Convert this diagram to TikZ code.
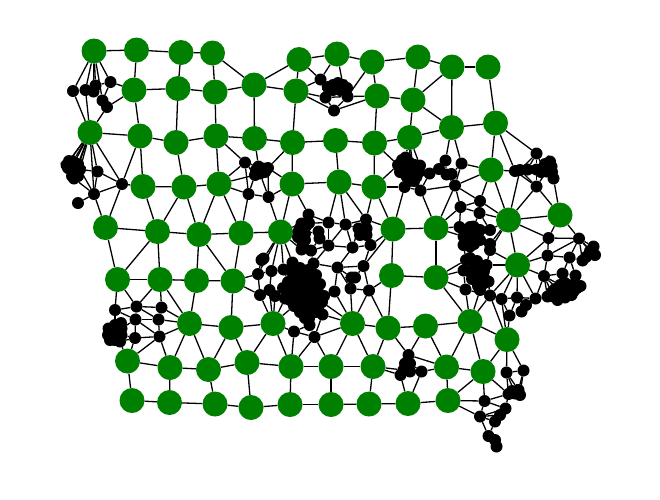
\documentclass[tikz,border=0pt]{standalone}
\definecolor{hubgreen}{RGB}{0, 128, 0}
\tikzset{
  hub/.style={circle, fill=hubgreen, draw=none, minimum size=25pt, inner sep=0pt},
  tap/.style={circle, fill=black, draw=none, minimum size=12pt, inner sep=0pt},
  wire/.style={line width=1.3pt, black}
}
\begin{document}
\begin{tikzpicture}[x=1pt, y=-1pt]
  \useasboundingbox (0,0) rectangle (660,499);

  % Green hubs, row by row
  \foreach \n/\x/\y in {
    g1/94/51, g2/136.5/50, g3/181/52.5, g4/212.5/53, g5/299/59.5, g6/337/54, g7/372/62, g8/418/57, g9/452/67, g10/488/67,
    g11/134/90, g12/178/88.5, g13/215/92, g14/254/85, g15/296/91, g16/377/96, g17/413/100,
    g18/90/132.5, g19/140/136, g20/176/142.5, g21/216/136, g22/254.5/138.5, g23/292.5/142.5, g24/335.5/140.5, g25/374.5/143, g26/409.5/137.5, g27/451.5/127.5, g28/495.5/123,
    g29/143/186.5, g30/184/187, g31/219/184, g32/292/184, g33/339/182, g34/374/187, g35/491/170,
    g36/105.5/227.5, g37/157.5/231.5, g38/199/234.5, g39/241/233, g40/280.5/232, g41/393/229, g42/436/228, g43/508.5/220, g44/560/215,
    g45/117.5/279.5, g46/160/279.5, g47/196.5/280.5, g48/233/281, g49/391.5/275.5, g50/436/277.5, g51/517.5/265,
    g52/189.5/323.5, g53/231/327.5, g54/273/323.5, g55/352.5/323.5, g56/388/328, g57/425.5/326, g58/470/321.5, g59/507/339.5,
    g60/127.5/361, g61/170/367.5, g62/208.5/369.5, g63/247/362.5, g64/291/366.5, g65/331/366.5, g66/373/366.5, g67/446.5/367, g68/483/371.5,
    g69/132/400.5, g70/169.5/402.5, g71/215/404, g72/251/407.5, g73/290/404.5, g74/331/404.5, g75/369/404, g76/408/403.5, g77/448/400.5}
    \node[hub] (\n) at (\x,\y) {};

  % Black taps, north west
  \foreach \n/\x/\y in {
    a1/73/91, a2/85.5/90, a3/93.5/91.5, a4/95.5/85.5, a5/110.5/82, a6/102.5/100.5, a7/107/107,
    b1/66.5/165, b2/73/161.5, b3/72/167, b4/80/169.5, b5/74/178.5, b6/76.5/171, b7/97.5/171.5, b8/122/184, b9/94/194, b10/78/203,
    b11/69/161, b12/78/164, b13/68/168, b14/74/172, b15/78/176, b16/72/176,
    c1/245/162.5, c2/248.5/194, c3/268.5/197, c4/258.5/166.5, c5/255/175, c6/263.5/168.5, c7/260/173.5, c8/268/168, c9/265/172, c10/256/170,
    d1/320.5/79.5, d2/328/87, d3/333/85, d4/338/83, d5/343/85, d6/347/88, d7/333/90, d8/340/90, d9/325.5/97.5, d10/347.5/96.5, d11/334/110.5, d12/336/88}
    \node[tap] (\n) at (\x,\y) {};

  % Black taps, north east
  \foreach \n/\x/\y in {
    e1/405.5/157.5, e2/398/165, e3/420/165.5, e4/403.5/170, e5/410/170, e6/416.5/176.5, e7/406.5/176.5, e8/400/167, e9/413.5/173.5, e10/410/163, e11/404.5/187, e12/420.5/190.5,
    e13/429.5/173.5, e14/439/169, e15/445.5/160.5, e16/461.5/163.5, e17/446.5/174.5, e18/451.5/174, e19/455/185.5,
    e20/402/160, e21/415/165, e22/409/181, e23/414/181, e24/400/172, e25/419/172,
    f1/536.5/153.5, f2/515/171, f3/520/170, f4/527.5/169.5, f5/536.5/169.5, f6/543.5/168.5, f7/550/161.5, f8/551.5/166.5, f9/546.5/171.5, f10/553.5/178.5, f11/536.5/186.5,
    f12/545/164, f13/552/172, f14/541/172}
    \node[tap] (\n) at (\x,\y) {};

  % Black taps, middle
  \foreach \n/\x/\y in {
    m1/308.5/214.5, m2/328.5/222.5, m3/345.5/224.5, m4/366/219.5, m5/301.5/223.5, m6/298.5/231.5, m7/305/233.5, m8/301.5/240, m9/318.5/231.5, m10/319.5/238.5, m11/311/250.5, m12/301.5/249.5,
    m13/328.5/245.5, m14/352.5/247.5, m15/370.5/245, m16/358.5/228.5, m17/366.5/228.5, m18/360/235, m19/366.5/235,
    m20/263.5/258.5, m21/261.5/260, m22/258/274, m23/271.5/271, m24/283.5/269.5, m25/292.5/262.5, m26/313.5/263.5, m27/337.5/267.5, m28/363.5/266, m29/351.5/277.5, m30/355/277.5, m31/350.5/288.5, m32/369/290.5, m33/334.5/291.5,
    m34/260/295, m35/269.5/290, m36/275/296, m37/285/298.5, m38/322.5/314.5, m39/309/318.5, m40/309.5/325, m41/294/331.5, m42/314.5/337,
    m43/300/228, m44/306/226, m45/305/240, m46/303/245, m47/298/237, m48/309/223}
    \node[tap] (\n) at (\x,\y) {};

  % Black taps, the dense heap
  \foreach \n/\x/\y in {
    k1/292/272, k2/300/268, k3/308/270, k4/316/275, k5/288/282, k6/296/280, k7/304/278, k8/312/282, k9/320/284, k10/287/292, k11/294/290, k12/302/288, k13/310/290, k14/318/292, k15/324/296,
    k16/290/300, k17/298/298, k18/306/298, k19/314/300, k20/322/302, k21/294/306, k22/302/306, k23/310/306, k24/318/308, k25/300/312, k26/308/313, k27/316/312,
    k28/294/276, k29/302/274, k30/310/276, k31/290/286, k32/298/285, k33/306/284, k34/314/286, k35/291/295, k36/299/293, k37/307/294, k38/315/296, k39/296/302, k40/304/302, k41/312/303, k42/320/298, k43/304/310, k44/312/310, k45/283/288, k46/305/318}
    \node[tap] (\n) at (\x,\y) {};

  % Black taps, east side
  \foreach \n/\x/\y in {
    p1/480/201, p2/460.5/207, p3/479.5/213, p4/490/230, p5/490/244, p6/490/250, p7/486.5/265,
    q1/459.5/227, q2/466.5/230, q3/473.5/226.5, q4/480/230, q5/463.5/236.5, q6/470/236.5, q7/476.5/236.5, q8/463.5/245, q9/470/246.5, q10/480/240, q11/474/244, q12/470/227,
    r1/466/260, r2/463.5/270.5, r3/473.5/265, r4/475/273.5, r5/483.5/276.5, r6/476.5/281.5, r7/483.5/283.5, r8/488.5/281.5, r9/480/290, r10/465.5/289.5,
    r11/470/258, r12/479/268, r13/470/272, r14/477/261, r15/472/279, r16/484/271, r17/478/286,
    s1/548.5/238, s2/579/238.5, s3/547.5/255.5, s4/569.5/257.5, s5/582.5/260.5, s6/593.5/246.5, s7/595/255, s8/544/276, s9/562.5/273.5, s10/575.5/275.5, s11/580.5/286,
    s12/573.5/291.5, s13/566.5/290, s14/560/291.5, s15/553.5/296.5, s16/547.5/296.5, s17/557.5/300, s18/565/297.5, s19/571.5/295, s20/560/285,
    s21/555/289, s22/565/283, s23/572/285, s24/577/288, s25/568/293, s26/552/292, s27/562/296, s28/590/251, s29/586/257,
    t1/535.5/298.5, t2/517/297.5, t3/501.5/299, t4/490/295.5, t5/526/305, t6/521.5/311.5, t7/509.5/315.5}
    \node[tap] (\n) at (\x,\y) {};

  % Black taps, south
  \foreach \n/\x/\y in {
    u1/115/310, u2/136.5/306.5, u3/161.5/307.5, u4/135.5/319.5, u5/158.5/319.5, u6/135/338, u7/159.5/336.5,
    u8/108.5/328.5, u9/115/325, u10/121.5/328.5, u11/110/340, u12/120/341.5, u13/115/333.5, u14/121.5/335, u15/108/335, u16/115/340, u17/121/323,
    v1/408.5/355, v2/405/363.5, v3/410/363.5, v4/403.5/370, v5/410/371.5, v6/400.5/375, v7/421.5/371.5, v8/407/367,
    w1/506.5/372.5, w2/523.5/370.5, w3/508.5/394, w4/518.5/390, w5/520/395, w6/515/393.5, w7/484.5/401, w8/505.5/408.5, w9/500/415, w10/495/421.5, w11/480/416.5, w12/488.5/436, w13/495/440, w14/496.5/446.5, w15/512/391}
    \node[tap] (\n) at (\x,\y) {};

  % Hub to hub
  \foreach \a/\b in {
    g1/g2, g2/g3, g3/g4, g2/g11, g3/g12, g4/g13, g4/g14, g11/g12, g12/g13, g13/g14, g11/g19, g12/g20, g13/g21, g14/g22, g14/g15, g14/g5,
    g5/g6, g5/g15, g6/g7, g7/g8, g8/g9, g9/g10, g7/g16, g8/g17, g16/g17, g9/g17, g17/g27, g9/g27, g10/g28, g27/g28, g27/g26, g17/g26, g16/g25, g15/g23,
    g18/g19, g19/g20, g20/g21, g21/g22, g22/g23, g23/g24, g24/g25, g25/g26, g20/g30, g19/g29, g21/g31, g23/g32, g24/g33, g25/g34, g29/g30, g30/g31, g32/g33, g33/g34,
    g35/g28, g35/g43, g43/g44, g43/g51, g37/g29, g37/g30, g38/g30, g38/g31, g39/g31, g40/g32, g34/g41,
    g36/g37, g37/g38, g38/g39, g39/g40, g36/g45, g37/g45, g37/g46, g38/g47, g38/g48, g39/g48, g45/g46, g46/g47, g47/g48, g47/g52, g46/g52, g48/g53, g52/g53, g53/g54,
    g41/g42, g41/g49, g49/g50, g42/g50, g50/g58, g49/g56, g55/g56, g56/g57, g57/g58, g58/g59, g57/g67, g58/g67, g58/g68, g59/g68, g67/g68, g67/g77, g77/g68,
    g60/g61, g61/g62, g62/g63, g63/g64, g64/g65, g65/g66, g60/g69, g61/g70, g62/g71, g63/g72, g64/g73, g65/g74, g66/g75,
    g69/g70, g70/g71, g71/g72, g72/g73, g73/g74, g74/g75, g75/g76, g76/g77, g63/g54, g54/g64, g52/g62, g52/g61, g53/g62, g53/g63, g65/g55, g66/g55, g66/g56}
    \draw[wire] (\a) -- (\b);

  % Taps around the north
  \foreach \a/\b in {
    g1/a1, g1/a2, g1/a3, g1/a4, g1/a5, g1/a6, a1/g18, a2/g18, a7/g18, a5/g11, a7/g11, a4/a5, a6/a7, a3/a6, a1/a2, a2/a3, a3/a4, a5/a6,
    g18/b1, g18/b2, g18/b3, g18/b4, g18/b6, g18/b7, g18/b8, g18/b9, g18/b11, g18/b12, b8/b7, b8/b9, b8/g29, b9/b7, b9/b5, b9/b4, b7/b4, b10/b9, g19/b8, g36/b8, g36/b9, b1/b2, b2/b3, b3/b4, b4/b6, b5/b6, b1/b3,
    g21/c1, g31/c1, g31/c2, g31/c5, g23/c8, g32/c8, g32/c3, g22/c4, c1/c4, c1/c2, c1/c5, c2/c5, c2/c3, c3/c8, c3/c7, c4/c6, c5/c7, c6/c8, c2/g39, c3/g40, c4/c5, c6/c7,
    g15/d1, g5/d1, g6/d1, g6/d5, g7/d10, g15/d9, g15/d11, g16/d10, g16/d11, d9/d10, d1/d2, d1/d9, d2/d3, d3/d4, d4/d5, d5/d6, d7/d8, d2/d7, d6/d8, d7/d9, d8/d10, d9/d11, d10/d11, d3/d7, d5/d8}
    \draw[wire] (\a) -- (\b);

  % Taps around the north east
  \foreach \a/\b in {
    g26/e1, g26/e10, g26/e5, g26/e3, g26/e9, g25/e2, g34/e2, g34/e11, g41/e11, g42/e12, g27/e15, g27/e16, g35/e16, g35/e19, g35/p1,
    e11/e12, e11/e7, e12/e6, e12/e13, e13/e14, e14/e15, e15/e17, e16/e18, e19/e18, e19/e17, e19/e16, e19/p1, e13/e6, e12/e19, e14/e17, e3/e9, e1/e10, e2/e8, e4/e8, e4/e5, e5/e9, e6/e7, e6/e9, e3/e13,
    g28/f1, g28/f2, g43/f3, g43/f11, f2/f3, f3/f4, f4/f5, f5/f6, f6/f7, f7/f8, f8/f9, f9/f10, f1/f4, f1/f5, f1/f3, f1/f6, f2/f11, f5/f11, g44/f11, g44/f10, f11/f3, f11/f9, g35/f2,
    e19/p2, e19/g42, p1/p2, p1/p3, p2/p3, p1/g43, p3/g43, p2/q1, p2/g42, p3/p4, g43/p4, g43/p6, g43/p5, p4/q4, p5/p6, p6/p7, p5/q10, g42/q1, g42/q5, q1/q2, q2/q3, q3/q4, q1/q5, q5/q6, q6/q7, q7/q4, q5/q8, q8/q9, q6/q9, q9/q10, q7/q10, p3/q3}
    \draw[wire] (\a) -- (\b);

  % Taps around the middle
  \foreach \a/\b in {
    g32/m1, g33/m2, g33/m3, g33/m4, g34/m4, g40/m5, g40/m12, g40/m20, g40/m23, g40/m24, g40/m25, g40/m22, m1/m2, m2/m3, m3/m4, m2/m5, m3/m13, m2/m13, m13/m11, m13/m14, m14/m15, m14/m3, m14/m16,
    m15/m17, m14/m27, m27/m26, m27/m28, m28/m15, m28/m30, m27/m33, m27/m31, m11/m26, m13/m26, m26/k4, m33/k15, m31/m32, m28/m32, m29/m27, m4/m17, m3/m16, m4/m15, g41/m4, g41/m15, g41/m28, g49/m32,
    m5/m6, m6/m7, m7/m9, m9/m10, m8/m12, m7/m8, m10/m11, m1/m5, m12/m11, m16/m18, m17/m19, m18/m19, m16/m17, m29/m30, m30/m31,
    g48/m22, g48/m34, m20/m21, m21/m22, m22/m23, m23/m24, m22/m34, m23/m35, m34/m35, m35/m36, m36/m37, m25/k1, m24/k1, m25/k2, m37/k16, m37/k10, m24/k5,
    g54/m35, g54/m34, g54/m36, g54/m37, g54/k21, g54/m41, m41/m40, m41/m42, m42/m40, m42/m38, m42/g55, g55/m38, g55/m33, g55/m31, g55/m32, g55/k20, g56/m32, g64/m41, g64/m42, g65/m42,
    k25/m39, k26/m39, k27/m38, m39/m40}
    \draw[wire] (\a) -- (\b);

  % Taps around the east
  \foreach \a/\b in {
    g43/s1, g44/s1, g44/s2, s1/s2, s1/s3, s2/s3, s2/s4, s2/s5, s2/s6, s2/s7, s2/s28, s3/s4, s4/s5, s4/s9, s4/s10, s3/s8, s3/g51, s1/g51, s8/g51, s8/t1, s8/s9, s8/s20, s8/s14, s8/s15, s8/s16, s9/s10, s10/s12, s10/s11, s9/s20,
    g51/t1, g51/t2, g51/t3, g51/t4, g51/p7, g51/p6, g59/t3, g59/t4, g59/t7, t2/t7, t2/t5, t3/t7, t4/t3, t3/t2, t2/t1, t1/s16, t5/t6,
    g58/t4, g58/r10, g58/r9, r2/r10, r10/t4, p7/t4, p7/r3, r1/r2, r1/r3, g50/r1, g50/r2, g50/r10, q8/r1, q9/r3, p6/q10, r5/p7, r9/t4, r8/t4}
    \draw[wire] (\a) -- (\b);

  % Taps around the south
  \foreach \a/\b in {
    g45/u1, g45/u2, g46/u2, g46/u3, g52/u3, g52/u5, g52/u7, g61/u7, g60/u7, g60/u6, g60/u12, u1/u2, u2/u3, u2/u4, u3/u5, u4/u5, u4/u7, u5/u7, u6/u7, u1/u4, u1/u9, u2/u5, u4/u10, u4/u6, u6/u14, u6/u12,
    g56/v1, g57/v1, g67/v1, g67/v7, g66/v4, g66/v6, g76/v6, g76/v7, v1/v2, v1/v3, v5/v7, v3/v7,
    g59/w1, g59/w2, g68/w7, g68/w3, g77/w7, g77/w11, w1/w2, w1/w3, w1/w4, w1/w6, w2/w4, w2/w5, w3/w6, w4/w5, w7/w3, w7/w8, w7/w11, w11/w8, w11/w9, w11/w10, w8/w9, w9/w10, w11/w12, w10/w12, w12/w13, w13/w14, w3/w8}
    \draw[wire] (\a) -- (\b);
\end{tikzpicture}
\end{document}
